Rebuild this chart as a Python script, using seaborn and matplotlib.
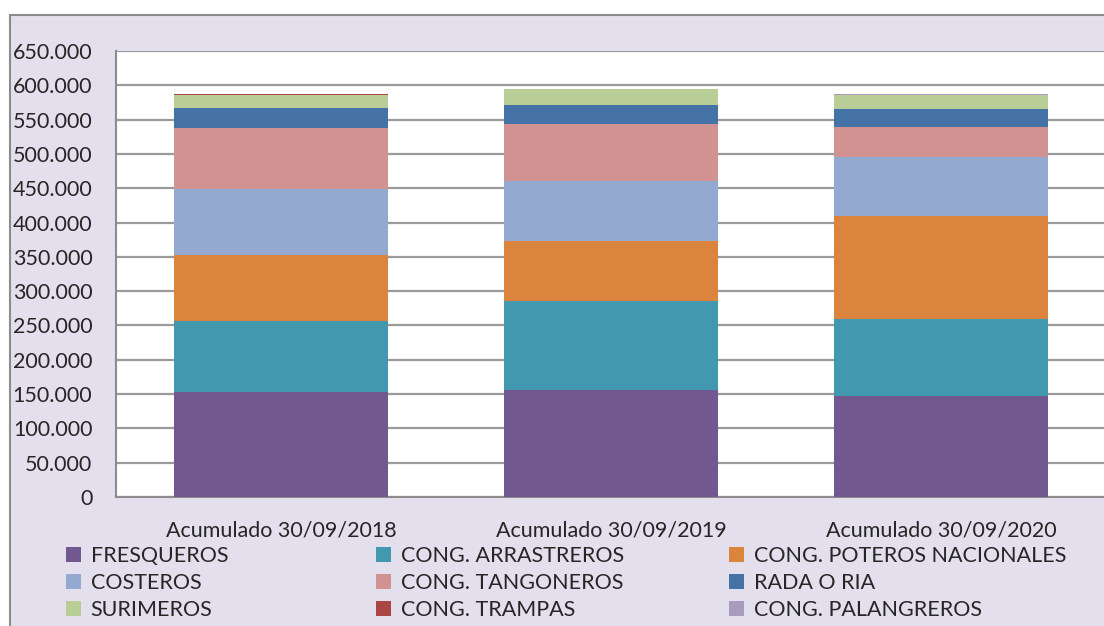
import numpy as np
import pandas as pd
import matplotlib
matplotlib.use("Agg")
import matplotlib.pyplot as plt
from matplotlib.patches import Patch, Rectangle
from matplotlib.ticker import FuncFormatter, MultipleLocator
import seaborn as sns

# datos (toneladas aprox.)
periodos = ["Acumulado 30/09/2018", "Acumulado 30/09/2019", "Acumulado 30/09/2020"]
fresqueros = [153000, 156000, 147000]
arrastreros = [103500, 130000, 112000]
poteros = [96000, 87000, 150000]
costeros = [96000, 88000, 86000]
tangoneros = [90000, 82000, 44000]
rada_ria = [28000, 29000, 27000]
surimeros = [20000, 22000, 20000]
trampas = [1000, 1000, 300]
palangreros = [300, 300, 1000]

series = [
    ("FRESQUEROS", fresqueros, "#71588F"),
    ("CONG. ARRASTREROS", arrastreros, "#4198AF"),
    ("CONG. POTEROS NACIONALES", poteros, "#DB843D"),
    ("COSTEROS", costeros, "#93A9CF"),
    ("CONG. TANGONEROS", tangoneros, "#D19392"),
    ("RADA O RIA", rada_ria, "#4572A7"),
    ("SURIMEROS", surimeros, "#B9CD96"),
    ("CONG. TRAMPAS", trampas, "#AA4643"),
    ("CONG. PALANGREROS", palangreros, "#A99BBD"),
]

sns.set_style("white")
plt.rcParams['font.family'] = ['Lato', 'DejaVu Sans']

fig = plt.figure(figsize=(11.04, 6.26), dpi=100)
fig.patch.set_facecolor("white")
# marco exterior del grafico
fig.patches.append(Rectangle((10 / 1104, -0.01), 1.1, (626 - 15) / 626 + 0.01,
                             transform=fig.transFigure, facecolor="#E4DFEC",
                             edgecolor="#8C8C8C", linewidth=1.5, zorder=-10))

ax = fig.add_axes([116 / 1104, 129 / 626, 990 / 1104, 446 / 626])
ax.set_facecolor("white")

bottom = np.zeros(len(periodos))
for name, vals, col in series:
    sns.barplot(x=periodos, y=vals, bottom=bottom, color=col, width=0.65,
                saturation=1, ax=ax, linewidth=0, zorder=3)
    bottom += np.array(vals)

ax.set_ylim(0, 650000)
ax.set_xlim(-0.5, 2.5)
ax.yaxis.set_major_locator(MultipleLocator(50000))
ax.yaxis.set_major_formatter(FuncFormatter(lambda v, p: f"{int(v):,}".replace(",", ".")))
ax.yaxis.grid(True, color="#9A9A9A", linewidth=1.6, zorder=0)
ax.set_axisbelow(True)
for s in ["top", "right"]:
    ax.spines[s].set_visible(False)
for s in ["left", "bottom"]:
    ax.spines[s].set_color("#8C8C8C")
    ax.spines[s].set_linewidth(1.5)
ax.tick_params(axis="y", labelsize=15.5, length=0, pad=17)
ax.tick_params(axis="x", labelsize=15.5, length=0, pad=17)
ax.set_xlabel("")
ax.set_ylabel("")

# leyenda: tres columnas, cada una en su sitio
handles = {name: Patch(facecolor=col, edgecolor="none") for name, vals, col in series}
columnas = [
    (66, ["FRESQUEROS", "COSTEROS", "SURIMEROS"]),
    (376, ["CONG. ARRASTREROS", "CONG. TANGONEROS", "CONG. TRAMPAS"]),
    (729, ["CONG. POTEROS NACIONALES", "RADA O RIA", "CONG. PALANGREROS"]),
]
for x0, nombres in columnas:
    leg = fig.legend([handles[n] for n in nombres], nombres, ncol=1, loc="upper left",
                     bbox_to_anchor=(x0 / 1104, 1 - 546 / 626), frameon=False,
                     fontsize=15.5, handlelength=0.7, handleheight=0.7, handletextpad=0.45,
                     labelspacing=0.32, borderpad=0, borderaxespad=0)

fig.savefig("out.png", dpi=100)
